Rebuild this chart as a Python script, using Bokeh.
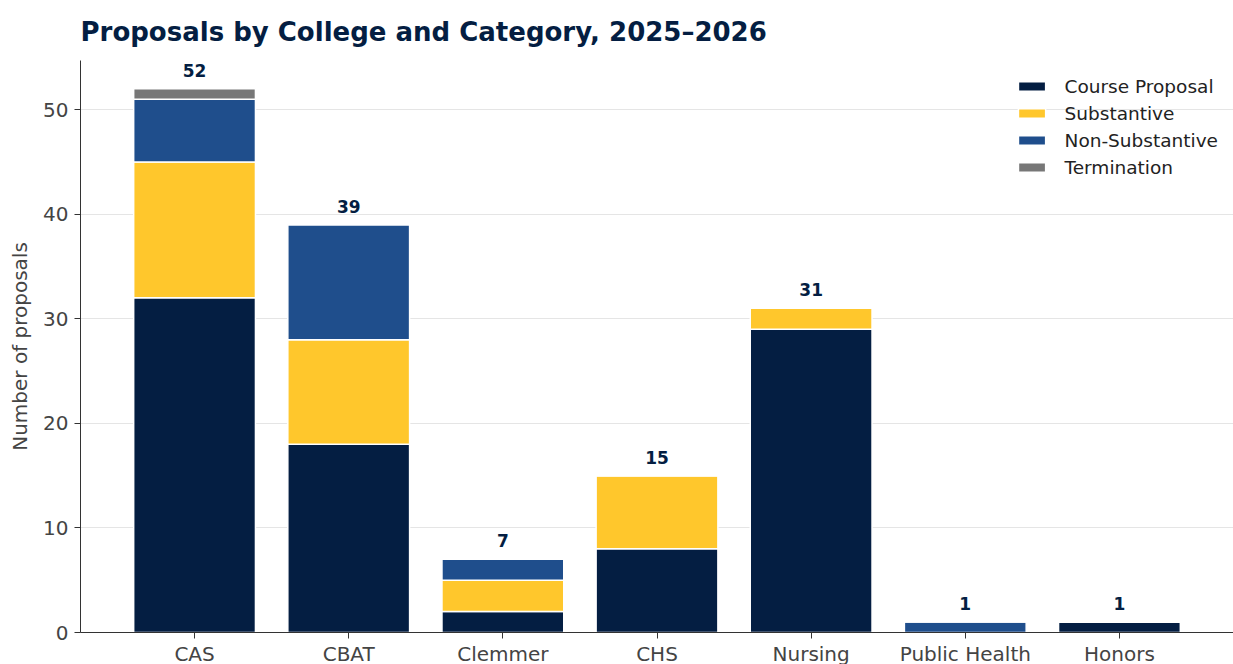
from bokeh.plotting import figure
from bokeh.models import Range1d, FactorRange, ColumnDataSource, FixedTicker
from bokeh.embed import file_html
from bokeh.resources import INLINE
from bokeh.core.properties import value

colleges = ["CAS", "CBAT", "Clemmer", "CHS", "Nursing", "Public Health", "Honors"]
course_proposal = [32, 18, 2, 8, 29, 0, 1]
substantive = [13, 10, 3, 7, 2, 0, 0]
non_substantive = [6, 11, 2, 0, 0, 1, 0]
termination = [1, 0, 0, 0, 0, 0, 0]
categories = ["Course Proposal", "Substantive", "Non-Substantive", "Termination"]
colors = ["#041E42", "#FFC72C", "#1F4E8C", "#777777"]
totals = [a + b + c + d for a, b, c, d in zip(course_proposal, substantive, non_substantive, termination)]

FONT = "DejaVu Sans"

src = ColumnDataSource(dict(college=colleges, cp=course_proposal, sub=substantive,
                            non=non_substantive, term=termination, total=totals,
                            lab=[str(t) for t in totals]))

p = figure(width=1233, height=688, output_backend="svg", toolbar_location=None,
           x_range=FactorRange(*colleges, range_padding=0.24, range_padding_units="absolute"),
           y_range=Range1d(0, 54.7),
           min_border_left=80, min_border_right=0, min_border_top=60, min_border_bottom=56)

p.vbar_stack(["cp", "sub", "non", "term"], x="college", width=0.79, source=src,
             color=colors, line_color="white", line_width=1.5,
             legend_label=categories)

p.text(x="college", y="total", text="lab", source=src, text_align="center",
       text_baseline="bottom", y_offset=-12, text_font=value(FONT),
       text_font_style="bold", text_font_size="17px", text_color="#041E42")

p.title.text = "Proposals by College and Category, 2025\u20132026"
p.title.text_font = FONT
p.title.text_font_size = "26px"
p.title.text_font_style = "bold"
p.title.text_color = "#041E42"
p.title.text_line_height = 1.0
p.title.align = "left"
p.title.offset = 0
p.title.standoff = 28

p.outline_line_color = None
p.xgrid.grid_line_color = None
p.ygrid.grid_line_color = "#e5e5e5"
p.ygrid.grid_line_width = 1
p.yaxis.ticker = FixedTicker(ticks=[0, 10, 20, 30, 40, 50])
p.yaxis.minor_tick_line_color = None

for ax in (p.xaxis, p.yaxis):
    ax.axis_line_color = "#333333"
    ax.major_tick_line_color = "#333333"
    ax.major_tick_out = 6
    ax.major_tick_in = 0
    ax.major_label_text_font = FONT
    ax.major_label_text_font_size = "20px"
    ax.major_label_text_color = "#444444"
    ax.axis_label_text_font = FONT
    ax.axis_label_text_font_style = "normal"
    ax.axis_label_text_font_size = "20px"
    ax.axis_label_text_color = "#444444"

p.yaxis.axis_label = "Number of proposals"
p.yaxis.major_label_standoff = 6
p.yaxis.axis_label_standoff = 8
p.xaxis.major_label_standoff = 3
p.xaxis.group_text_font_size = "0px"

p.legend.location = "top_right"
p.legend.border_line_color = None
p.legend.background_fill_alpha = 0
p.legend.label_text_font = FONT
p.legend.label_text_font_size = "18.5px"
p.legend.label_text_color = "#222222"
p.legend.label_height = 22
p.legend.glyph_width = 34
p.legend.glyph_height = 12
p.legend.spacing = 5
p.legend.label_standoff = 16
p.legend.margin = 15
p.legend.padding = 6

html = file_html(p, INLINE)
html = html.replace("<head>", "<head><style>html,body{overflow:hidden}</style>", 1)
open("out.html", "w").write(html)
